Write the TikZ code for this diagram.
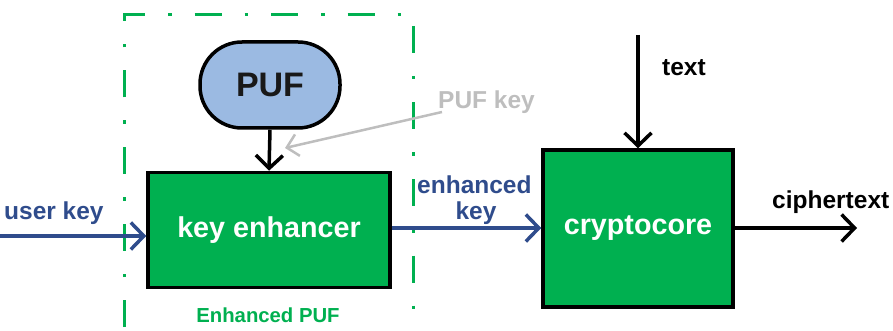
\documentclass[tikz,border=0pt]{standalone}
\usepackage{fontspec}
\setmainfont{Liberation Sans}
\usetikzlibrary{arrows.meta}
\definecolor{boxgreen}{RGB}{0,176,80}
\definecolor{linkblue}{RGB}{47,76,140}
\definecolor{pufblue}{RGB}{155,186,226}
\definecolor{pufgray}{RGB}{190,190,190}
\tikzset{
  block/.style={draw=black, line width=3.5pt, fill=boxgreen, text=white,
    font=\fontsize{28.7}{30}\selectfont\bfseries, inner sep=0pt},
  lbl/.style={font=\fontsize{24.5}{26}\selectfont\bfseries, inner sep=0pt},
  tip/.style={-{Straight Barb[length=13pt,width=27pt,line width=3.5pt]}},
  flow/.style={tip, line width=3.5pt},
}
\begin{document}
\begin{tikzpicture}[x=1pt,y=-1pt]
\useasboundingbox (0,0) rectangle (893,331);
% enhanced PUF boundary
\draw[boxgreen, line width=3pt, dash pattern=on 27pt off 23pt on 3.5pt off 23pt]
  (124,327) -- (124,15) -- (413,15) -- (413,327);
\node[font=\fontsize{20.3}{22}\selectfont\bfseries, text=boxgreen] (epuf) at (268,315) {Enhanced PUF};
% blocks
\node[draw=black, line width=3.5pt, rounded corners=42pt, fill=pufblue,
  minimum width=140pt, minimum height=86pt,
  font=\fontsize{34}{36}\selectfont\bfseries, text=black!90] (puf) at (270,85) {PUF};
\node[block, minimum width=242pt, minimum height=115pt] (enh) at (269,230) {key enhancer};
\node[block, minimum width=190pt, minimum height=157pt] (core) at (638,228.5) {cryptocore};
% connectors
\coordinate (uk) at (0,236);
\coordinate (txt) at (638,35);
\coordinate (ct) at (857,228);
\coordinate (pk) at (442,112);
\coordinate (pktip) at (285,148);
\draw[flow] (puf.south) -- (enh.north);
\draw[flow, linkblue] (uk) -- (uk -| enh.west);
\draw[flow, linkblue] (enh.east |- 0,228) -- (core.west |- 0,228);
\draw[flow] (txt) -- (core.north);
\draw[flow] (core.east |- ct) -- (ct);
\draw[pufgray, line width=2.5pt, -{Straight Barb[length=11pt,width=22pt,line width=2.5pt]}] (pk) -- (pktip);
% labels
\node[lbl, text=linkblue, anchor=west] (ukl) at (4,213) {user key};
\node[lbl, text=pufgray, anchor=west] (pkl) at (438,102) {PUF key};
\node[lbl, text=linkblue, anchor=west] (ekl1) at (417,185) {enhanced};
\node[lbl, text=linkblue] (ekl2) at (476,213) {key};
\node[lbl, anchor=west] (txl) at (662,68) {text};
\node[lbl, anchor=west] (ctl) at (772,202) {ciphertext};
\end{tikzpicture}
\end{document}
